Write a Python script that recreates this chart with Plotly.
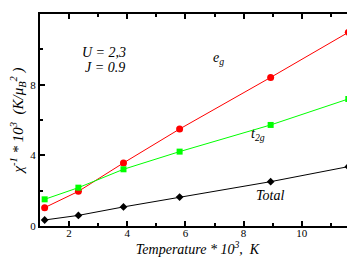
import plotly.graph_objects as go

temperature = [1.16, 2.32, 3.87, 5.80, 8.93, 11.60]
chi_eg = [1.04, 1.96, 3.57, 5.49, 8.41, 10.96]
chi_t2g = [1.51, 2.17, 3.21, 4.21, 5.72, 7.19]
chi_total = [0.34, 0.60, 1.08, 1.64, 2.51, 3.36]

serif = "Liberation Serif"

fig = go.Figure()
fig.add_trace(go.Scatter(x=temperature, y=chi_eg, mode="lines+markers",
                         line=dict(color="#ff0000", width=1),
                         marker=dict(symbol="circle", size=7, color="#ff0000")))
fig.add_trace(go.Scatter(x=temperature, y=chi_t2g, mode="lines+markers",
                         line=dict(color="#00ff00", width=1),
                         marker=dict(symbol="square", size=6, color="#00ff00")))
fig.add_trace(go.Scatter(x=temperature, y=chi_total, mode="lines+markers",
                         line=dict(color="#000000", width=1),
                         marker=dict(symbol="diamond", size=6, color="#000000")))

annots = [
    dict(x=3.2, y=9.8, text="<i>U = 2,3</i>"),
    dict(x=3.25, y=9.0, text="<i>J = 0.9</i>"),
    dict(x=7.15, y=9.5, text="<i>e<sub>g</sub></i>"),
    dict(x=8.5, y=5.2, text="<i>t<sub>2g</sub></i>"),
    dict(x=8.9, y=1.75, text="<i>Total</i>"),
]
for a in annots:
    fig.add_annotation(x=a["x"], y=a["y"], text=a["text"], showarrow=False,
                       font=dict(family=serif, size=14, color="black"))

axis_common = dict(
    showgrid=False, zeroline=False, showline=True, linecolor="black", linewidth=2,
    ticks="inside", ticklen=5, tickwidth=1.5, tickcolor="black", automargin=False,
    tickfont=dict(family=serif, size=11, color="black"),
)

fig.update_xaxes(range=[1, 11.83], dtick=2, tick0=0, mirror="ticks", ticklabelstandoff=-4,
                 minor=dict(dtick=1, tick0=0, ticks="inside", ticklen=3, tickcolor="black", tickwidth=1.5),
                 title=dict(text="<i>Temperature * 10<sup>3</sup>,  K</i>",
                            font=dict(family=serif, size=14, color="black"), standoff=0),
                 **axis_common)
fig.update_yaxes(range=[0, 12], dtick=4, tick0=0, mirror=False,
                 minor=dict(dtick=2, tick0=0, ticks="inside", ticklen=3, tickcolor="black", tickwidth=1.5),
                 title=dict(text="<i>χ<sup>-1</sup> * 10<sup>3</sup>  (K/μ<sub>B</sub><sup>2</sup> )</i>",
                            font=dict(family=serif, size=15, color="black"), standoff=4),
                 **axis_common)

# page body has an 8px margin, so the figure is sized/offset to compensate
fig.update_layout(width=347, height=266, margin=dict(l=32, r=0, t=6, b=48),
                  plot_bgcolor="white", paper_bgcolor="white", showlegend=False)

fig.write_html("out.html")
